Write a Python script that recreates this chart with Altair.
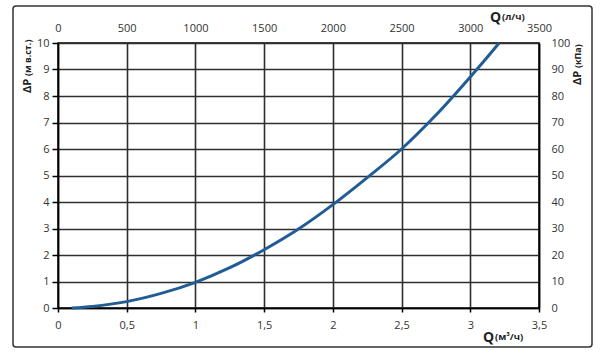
import altair as alt
import pandas as pd

# Curve: flow Q (m3/h) vs pressure drop dP (m w.c.)
q_m3h = [0.1, 0.25, 0.5, 0.75, 1.0, 1.25, 1.5, 1.75, 2.0, 2.25, 2.5, 2.75, 3.0, 3.1, 3.21]
dp_m = [0.0, 0.06, 0.24, 0.55, 0.97, 1.52, 2.2, 2.98, 3.9, 4.92, 6.0, 7.28, 8.72, 9.32, 10.0]

x_ticks = [0, 0.5, 1, 1.5, 2, 2.5, 3, 3.5]
y_ticks = [0, 1, 2, 3, 4, 5, 6, 7, 8, 9, 10]
top_ticks = [0, 500, 1000, 1500, 2000, 2500, 3000, 3500]
right_ticks = [0, 10, 20, 30, 40, 50, 60, 70, 80, 90, 100]

df = pd.DataFrame({"q": q_m3h, "dp": dp_m})

FONT = "Open Sans"
LBL = "#333333"
GRID = "#2e2e2e"
one = pd.DataFrame({"a": [0]})

curve = alt.Chart(df).mark_line(color="#215c94", strokeWidth=3, interpolate="monotone").encode(
    x=alt.X("q:Q", scale=alt.Scale(domain=[0, 3.5], nice=False),
            axis=alt.Axis(values=x_ticks, orient="bottom", title=None,
                          labelExpr="replace(format(datum.value, '~g'), '.', ',')",
                          grid=True, gridColor=GRID, gridWidth=1.6, gridOpacity=1,
                          domainColor="#000", domainWidth=1.5, tickColor="#000", tickWidth=1.5,
                          tickSize=4, labelPadding=7, labelFontSize=11, labelColor=LBL,
                          labelFont=FONT, labelFlush=False)),
    y=alt.Y("dp:Q", scale=alt.Scale(domain=[0, 10], nice=False),
            axis=alt.Axis(values=y_ticks, orient="left", title=None,
                          grid=True, gridColor=GRID, gridWidth=1.6, gridOpacity=1,
                          domainColor="#000", domainWidth=1.5, tickColor="#000", tickWidth=1.5,
                          tickSize=6, labelPadding=3, labelFontSize=11, labelColor=LBL,
                          labelFont=FONT, labelFlush=False)),
)

secondary = alt.Chart(df).transform_calculate(
    q_lh="datum.q * 1000", kpa="datum.dp * 10"
).mark_line(opacity=0).encode(
    x=alt.X("q_lh:Q", scale=alt.Scale(domain=[0, 3500], nice=False),
            axis=alt.Axis(values=top_ticks, orient="top", title=None, grid=False,
                          labelExpr="format(datum.value, 'd')",
                          ticks=False, domain=False, labelPadding=10, labelFontSize=11,
                          labelColor=LBL, labelFont=FONT, labelFlush=False)),
    y=alt.Y("kpa:Q", scale=alt.Scale(domain=[0, 100], nice=False),
            axis=alt.Axis(values=right_ticks, orient="right", title=None, grid=False,
                          ticks=False, domainColor="#000", domainWidth=1.5,
                          labelPadding=12, labelFontSize=11, labelColor=LBL,
                          labelFont=FONT, labelFlush=False)),
)

border = alt.Chart(one).mark_rect(fill="transparent", stroke="#333333", strokeWidth=1.5,
                                  cornerRadius=3).encode(
    x=alt.value(-45), x2=alt.value(534), y=alt.value(-37), y2=alt.value(304))


def txt(s, x, y, size, angle=0, align="left"):
    return alt.Chart(one).mark_text(
        text=s, font=FONT, fontSize=size, fontWeight="bold",
        color="#222222", align=align, baseline="middle", angle=angle).encode(
        x=alt.value(x), y=alt.value(y))


titles = [
    txt("Q", 432, -25, 14),
    txt("(л/ч)", 444, -26, 9.5),
    txt("Q", 425, 295, 14),
    txt("(м³/ч)", 437, 294, 9.5),
    txt("ΔP", -30, 50, 11, angle=270),
    txt("(м в.ст.)", -30, 33, 9, angle=270),
    txt("ΔP", 520, 42, 11, angle=270),
    txt("(кПа)", 520, 25, 9, angle=270),
]

chart = alt.layer(border, curve, secondary, *titles).resolve_scale(
    x="independent", y="independent"
).properties(
    width=481, height=265,
    autosize=alt.AutoSizeParams(type="none"),
    padding={"left": 58, "top": 43, "right": 61, "bottom": 48},
    background="white",
).configure_view(stroke="#000", strokeWidth=1.5)

chart.save("out.html", embed_options={"renderer": "svg", "actions": False})
